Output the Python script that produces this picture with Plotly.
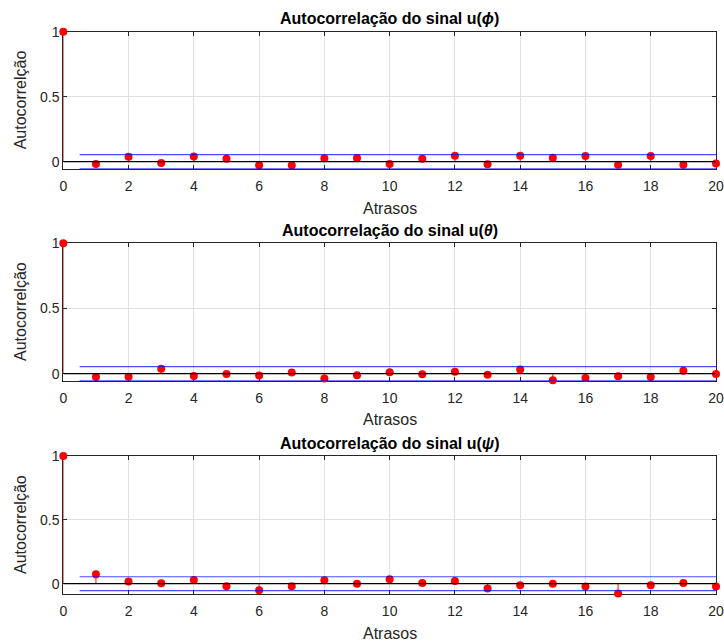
import plotly.graph_objects as go

# Sample autocorrelation of the three control signals, lags 0..20
lags = list(range(0, 21))

acf_phi = [1.0, -0.018, 0.038, -0.010, 0.041, 0.023, -0.028, -0.028, 0.026, 0.028,
           -0.018, 0.023, 0.046, -0.020, 0.046, 0.030, 0.044, -0.023, 0.044, -0.023,
           -0.013]
acf_theta = [1.0, -0.026, -0.023, 0.038, -0.018, -0.003, -0.015, 0.008, -0.038, -0.013,
             0.010, -0.005, 0.015, -0.008, 0.031, -0.051, -0.033, -0.020, -0.026, 0.023,
             -0.003]
acf_psi = [1.0, 0.073, 0.016, 0.003, 0.029, -0.021, -0.052, -0.021, 0.026, 0.0,
           0.034, 0.005, 0.021, -0.037, -0.013, 0.0, -0.023, -0.078, -0.013, 0.005,
           -0.023]

# 95% confidence bound (±) for each signal
bounds = [0.054, 0.054, 0.054]
y_lower = [-0.056, -0.054, -0.081]

titles = ["Autocorrelação do sinal u(<i>ϕ</i>)",
          "Autocorrelação do sinal u(<i>θ</i>)",
          "Autocorrelação do sinal u(<i>ψ</i>)"]
series = [acf_phi, acf_theta, acf_psi]

x_ticks = list(range(0, 21, 2))
y_ticks = [0, 0.5, 1]
y_tick_text = ["0", "0.5", "1"]
x_label = "Atrasos"
y_label = "Autocorrelção"
bound_start = 0.5

# ---- page geometry (pixels) ----
W, H = 724, 642
left_px, right_px = 63.3, 716.0
tops_px = [31.7, 243.3, 456.0]
bottoms_px = [169.0, 380.7, 594.0]

FONT = "Liberation Sans, Arial, sans-serif"
AX_COLOR = "#262626"
GRID = "#e0e0e0"

fig = go.Figure()
layout = dict(
    width=W, height=H,
    margin=dict(l=0, r=0, t=0, b=0, pad=0),
    paper_bgcolor="white", plot_bgcolor="white",
    showlegend=False,
    font=dict(family=FONT, color=AX_COLOR, size=14),
    annotations=[],
)

for i, (vals, bnd, ylo, ttl) in enumerate(zip(series, bounds, y_lower, titles)):
    n = "" if i == 0 else str(i + 1)
    xa, ya = "x" + n, "y" + n

    # stems
    sx, sy = [], []
    for lag, v in zip(lags, vals):
        sx += [lag, lag, None]
        sy += [0, v, None]
    fig.add_trace(go.Scatter(x=sx, y=sy, mode="lines", cliponaxis=False,
                             line=dict(color="rgba(255,0,0,0.8)", width=1.2),
                             xaxis=xa, yaxis=ya, hoverinfo="skip"))
    # markers
    fig.add_trace(go.Scatter(x=lags, y=vals, mode="markers", cliponaxis=False,
                             marker=dict(color="#ff0000", size=8, line=dict(width=0)),
                             xaxis=xa, yaxis=ya))
    # zero line
    fig.add_trace(go.Scatter(x=[lags[0], lags[-1]], y=[0, 0], mode="lines",
                             line=dict(color="black", width=1.3),
                             xaxis=xa, yaxis=ya, hoverinfo="skip"))
    # confidence bounds
    for b in (bnd, -bnd):
        fig.add_trace(go.Scatter(x=[bound_start, lags[-1]], y=[b, b], mode="lines",
                                 line=dict(color="rgba(0,0,255,0.7)", width=1.2),
                                 xaxis=xa, yaxis=ya, hoverinfo="skip"))

    ydom = [1 - bottoms_px[i] / H, 1 - tops_px[i] / H]
    common = dict(showline=True, mirror="ticks", linecolor=AX_COLOR, linewidth=1,
                  ticks="inside", ticklen=4, tickcolor=AX_COLOR, tickwidth=1,
                  showgrid=True, gridcolor=GRID, gridwidth=1, zeroline=False,
                  automargin=False, layer="below traces",
                  tickfont=dict(family=FONT, size=14, color=AX_COLOR))
    layout["xaxis" + n] = dict(domain=[left_px / W, right_px / W], range=[lags[0], lags[-1]],
                               tickvals=x_ticks, anchor=ya, ticklabelstandoff=4, **common)
    layout["yaxis" + n] = dict(domain=ydom, range=[ylo, 1], tickvals=y_ticks,
                               ticktext=y_tick_text, anchor=xa, **common)

    cx = (left_px + right_px) / 2 / W
    layout["annotations"] += [
        dict(text="<b>" + ttl + "</b>", x=cx, y=1 - (tops_px[i] - 13) / H,
             xref="paper", yref="paper", xanchor="center", yanchor="middle",
             showarrow=False, font=dict(family=FONT, size=16, color="black")),
        dict(text=x_label, x=cx, y=1 - (bottoms_px[i] + 39) / H,
             xref="paper", yref="paper", xanchor="center", yanchor="middle",
             showarrow=False, font=dict(family=FONT, size=16, color=AX_COLOR)),
        dict(text=y_label, x=20 / W, y=1 - (tops_px[i] + bottoms_px[i]) / 2 / H,
             xref="paper", yref="paper", xanchor="center", yanchor="middle",
             textangle=-90, showarrow=False,
             font=dict(family=FONT, size=16, color=AX_COLOR)),
    ]

fig.update_layout(**layout)
fig.write_html("out.html")
